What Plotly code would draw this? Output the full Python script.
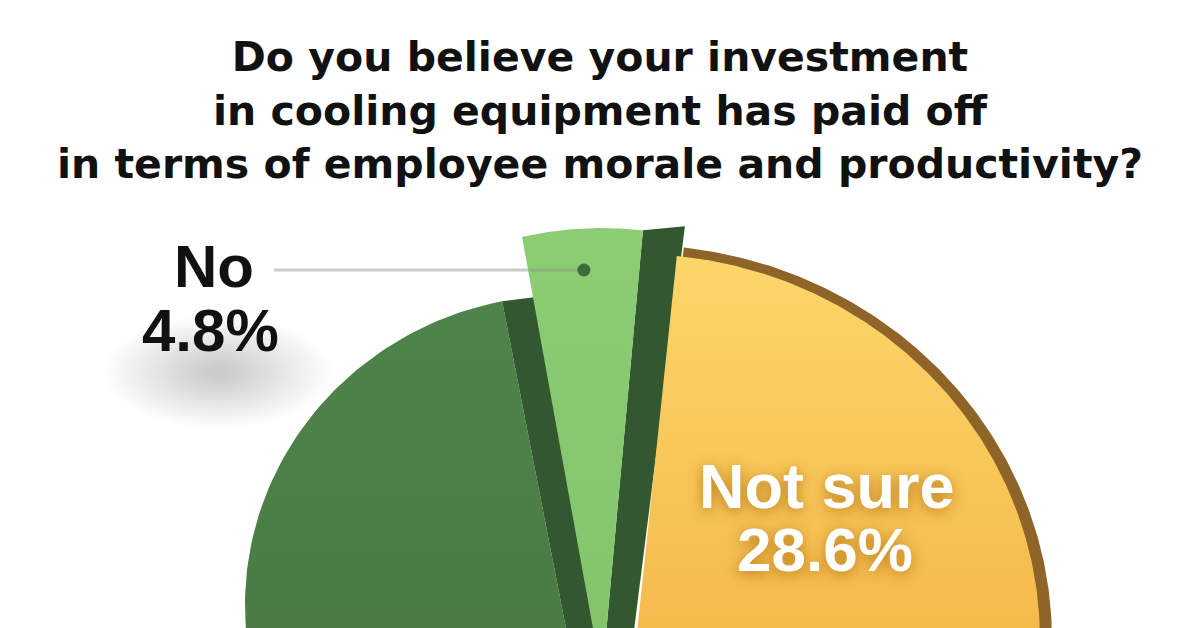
import numpy as np
import plotly.graph_objects as go

# ---- data ----
labels = ["Not sure", "Yes", "No"]
values = [28.6, 66.6, 4.8]
label_text = {"Not sure": ["Not sure", "28.6%"], "No": ["No", "4.8%"]}
title_lines = ["Do you believe your investment",
               "in cooling equipment has paid off",
               "in terms of employee morale and productivity?"]

# ---- style / geometry (axis units = page pixels) ----
START = 5.8  # degrees clockwise from 12 o'clock
GEOM = {
    "Not sure": dict(cx=636, cy=640, rx=404, ry=386, ax=632, ay=680),
    "Yes": dict(cx=566, cy=605, rx=321, ry=310, ax=580, ay=700),
    "No": dict(cx=602, cy=678, rx=405, ry=450, ax=602, ay=678),
}
TOP = {"Not sure": ("#FDD66B", "#F4BA4A"), "Yes": ("#4E8449", "#4A7C44"), "No": ("#8CCD74", "#82C56B")}
SIDE = "#33572F"
RIM = "#8E6429"
OFF = 8  # page body margin

total = sum(values)
bounds = {}
acc = START
for lab, v in zip(labels, values):
    a0 = acc
    acc += 360.0 * v / total
    bounds[lab] = (a0, acc)


def arc(g, t0, t1, n=180, drx=0.0, dry=0.0):
    t = np.radians(np.linspace(t0, t1, n))
    return g["cx"] + (g["rx"] + drx) * np.sin(t), g["cy"] - (g["ry"] + dry) * np.cos(t)


def point(g, t):
    t = np.radians(t)
    return g["cx"] + g["rx"] * np.sin(t), g["cy"] - g["ry"] * np.cos(t)


def wedge(lab, drx=0.0, dry=0.0, dt0=0.0):
    g = GEOM[lab]
    t0, t1 = bounds[lab]
    xs, ys = arc(g, t0 + dt0, t1, drx=drx, dry=dry)
    return [g["ax"], *xs, g["ax"]], [g["ay"], *ys, g["ay"]]


def side_face(lab, dx, dy, bottom_dx):
    g = GEOM[lab]
    t1 = bounds[lab][1]
    px, py = point(g, t1)
    return ([g["ax"], px, px + dx, g["ax"] + bottom_dx, g["ax"]],
            [g["ay"], py, py + dy, g["ay"], g["ay"]])


def poly_trace(xy, color, grad=None, y0=None, y1=None):
    x, y = xy
    kw = dict(x=x, y=y, mode="lines", fill="toself", line=dict(width=0, color=color),
              fillcolor=color, hoverinfo="skip", showlegend=False)
    if grad is not None:
        kw["fillgradient"] = dict(type="vertical", colorscale=[[0, grad[0]], [1, grad[1]]],
                                  start=y0, stop=y1)
    return go.Scatter(**kw)


fig = go.Figure()
# Yes
fig.add_trace(poly_trace(wedge("Yes"), TOP["Yes"][0], TOP["Yes"], 300, 628))
fig.add_trace(poly_trace(side_face("Yes", 32, -4, 32), SIDE))
# No
fig.add_trace(poly_trace(side_face("No", 42, -4, 26), SIDE))
fig.add_trace(poly_trace(wedge("No"), TOP["No"][0], TOP["No"], 230, 628))
# Not sure
fig.add_trace(poly_trace(wedge("Not sure", drx=12, dry=9, dt0=0.8), RIM))
fig.add_trace(poly_trace(wedge("Not sure"), TOP["Not sure"][0], TOP["Not sure"], 250, 640))

# leader line for "No"
gN = GEOM["No"]
mid_no = (bounds["No"][0] + bounds["No"][1]) / 2
dot_x = gN["ax"] + 0.9 * gN["rx"] * np.sin(np.radians(mid_no))
dot_y = 270
fig.add_trace(go.Scatter(x=[274, dot_x], y=[270, dot_y], mode="lines",
                         line=dict(color="rgba(140,140,140,0.45)", width=3),
                         hoverinfo="skip", showlegend=False))
fig.add_trace(go.Scatter(x=[dot_x], y=[dot_y], mode="markers",
                         marker=dict(color="#3E6B38", size=13),
                         hoverinfo="skip", showlegend=False))

shapes = []
# soft shadow behind "No 4.8%"
N = 26
for k in range(N):
    f = 1 - k / N
    hw, hh = 108 * f + 6, 52 * f + 4
    shapes.append(dict(type="circle", xref="x", yref="y", x0=218 - hw, x1=218 + hw,
                       y0=372 - hh, y1=372 + hh, fillcolor="rgba(0,0,0,0.0085)",
                       line=dict(width=0), layer="below"))

annotations = []
LBL_FONT = "Liberation Sans, Arial, sans-serif"
annotations.append(dict(text=label_text["No"][0], x=214, y=266, xref="x", yref="y", showarrow=False,
                        font=dict(family=LBL_FONT, size=60, color="#111111", weight="bold")))
annotations.append(dict(text=label_text["No"][1], x=210, y=330, xref="x", yref="y", showarrow=False,
                        font=dict(family=LBL_FONT, size=60, color="#111111", weight="bold")))
NS_SHADOW = "0px 3px 14px rgba(165,100,10,0.75)"
annotations.append(dict(text=label_text["Not sure"][0], x=827, y=486, xref="x", yref="y", showarrow=False,
                        font=dict(family=LBL_FONT, size=63, color="#FFFFFF", weight="bold",
                                  shadow=NS_SHADOW)))
annotations.append(dict(text=label_text["Not sure"][1], x=825, y=549, xref="x", yref="y", showarrow=False,
                        font=dict(family=LBL_FONT, size=62, color="#FFFFFF", weight="bold",
                                  shadow=NS_SHADOW)))

fig.update_layout(
    width=1200, height=628,
    margin=dict(l=0, r=0, t=0, b=0),
    paper_bgcolor="white", plot_bgcolor="white",
    title=dict(text="<br>".join(title_lines), x=(600 - OFF) / 1200, xanchor="center", xref="paper",
               y=0.899, yanchor="top", yref="container",
               font=dict(family="DejaVu Sans", size=41, color="#111111", weight="bold")),
    xaxis=dict(range=[OFF, 1200 + OFF], visible=False, fixedrange=True),
    yaxis=dict(range=[628 + OFF, OFF], visible=False, fixedrange=True),
    shapes=shapes, annotations=annotations,
)
fig.write_html("out.html")
